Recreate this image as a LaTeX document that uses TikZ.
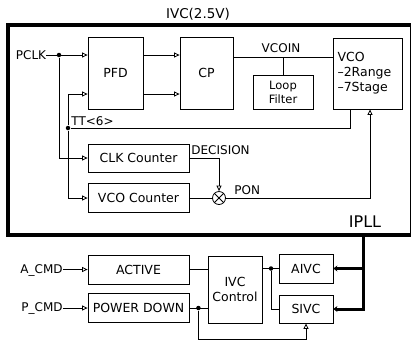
\documentclass[tikz,border=0pt]{standalone}
\usepackage{fontspec}
\setmainfont{DejaVu Sans}
\usetikzlibrary{arrows.meta,positioning,calc}

\begin{document}
\begin{tikzpicture}[x=1pt,y=-1pt,line width=0.8pt,
  blk/.style={draw,inner sep=1pt,align=center,font=\fontsize{12.5}{15}\selectfont},
  lbl/.style={inner sep=0pt,font=\fontsize{12}{14}\selectfont},
  junc/.style={circle,fill,inner sep=0pt,minimum size=4.5pt},
  tip/.style={-{Triangle[open,length=5.5pt,width=5pt]}},
  bus/.style={line width=3pt,-{Stealth[length=4pt,width=6pt]}}]
  \useasboundingbox (0,0) rectangle (411,341);
  % --- rows ---
  \coordinate (rA) at (0,55);
  \coordinate (rB) at (0,94);
  \coordinate (vin) at (0,57);
  \coordinate (bt) at (0,339);
  % --- IPLL frame ---
  \draw[line width=3.5pt] (411,25) -- (8,25) -- (8,235) -- (411,235);
  \draw (410,25) -- (410,235);
  \node[lbl,font=\fontsize{13.5}{15}\selectfont] (ivc) at (198,14) {IVC(2.5V)};
  \node[lbl,font=\fontsize{16}{18}\selectfont] (ipll) at (365,222) {IPLL};
  % --- loop blocks ---
  \node[blk,minimum width=55pt,minimum height=72pt] (pfd) at (115.5,73) {PFD};
  \node[blk,minimum width=53pt,minimum height=72pt] (cp) at (206.5,73) {CP};
  \node[blk,minimum width=60pt,minimum height=34pt,
        font=\fontsize{11.5}{14}\selectfont] (lf) at (283,92) {Loop\\Filter};
  \node[blk,minimum width=69pt,minimum height=71pt,text width=60pt,
        align=left] (vco) at (367.5,73.5) {VCO\\–2Range\\–7Stage};
  \node[blk,minimum width=101pt,minimum height=28pt] (clk) at (138.5,158) {CLK Counter};
  \node[blk,minimum width=101pt,minimum height=29pt] (vcnt) at (138.5,198) {VCO Counter};
  \node[draw,circle,minimum size=13pt,inner sep=0pt] (mix) at (219,198) {};
  \draw (mix.north west) -- (mix.south east) (mix.north east) -- (mix.south west);
  % --- loop wiring ---
  \node[lbl] (pclk) at (31,55) {PCLK};
  \draw[tip] (pclk.east) -- (pfd.west |- rA);
  \node[junc] (jp) at (59,55) {};
  \draw[tip] (jp) -- (jp |- clk) -- (clk.west);
  \node[junc] (jf) at (68,128) {};
  \draw[tip] (jf) -- (jf |- rB) -- (pfd.west |- rB);
  \draw[tip] (jf) -- (jf |- vcnt) -- (vcnt.west);
  \coordinate (vout) at (350,128);
  \draw (vco.south -| vout) -- (vout) -- (jf);
  \node[lbl,anchor=south west] (tt) at (71,126) {TT<6>};
  \draw[tip] (pfd.east |- rA) -- (cp.west |- rA);
  \draw[tip] (pfd.east |- rB) -- (cp.west |- rB);
  \draw (cp.east |- vin) -- (vco.west |- vin);
  \draw (lf.north |- vin) -- (lf.north);
  \node[lbl,anchor=south] (vcoin) at (281,53) {VCOIN};
  \draw[tip] (clk.east) -- (clk.east -| mix) -- (mix.north);
  \node[lbl,anchor=west] (dec) at (191,150) {DECISION};
  \draw (vcnt.east) -- (mix.west);
  \coordinate (pn) at (370,198);
  \draw[tip] (mix.east) -- (pn) -- (vco.south -| pn);
  \node[lbl,anchor=west] (pon) at (234,190) {PON};
  % --- IVC control ---
  \node[blk,minimum width=101pt,minimum height=29pt] (act) at (138.5,269.5) {ACTIVE};
  \node[blk,minimum width=101pt,minimum height=29pt] (pwd) at (138.5,308) {POWER DOWN};
  \node[blk,minimum width=54pt,minimum height=67pt] (ctl) at (235,289.5) {IVC\\Control};
  \node[blk,minimum width=54pt,minimum height=29pt] (aivc) at (306,268.5) {AIVC};
  \node[blk,minimum width=54pt,minimum height=28pt] (sivc) at (306,309) {SIVC};
  \node[lbl,anchor=east] (acmd) at (63,270) {A\_CMD};
  \node[lbl,anchor=east] (pcmd) at (63,308) {P\_CMD};
  \draw[tip] (acmd.east |- act) -- (act.west);
  \draw[tip] (pcmd.east |- pwd) -- (pwd.west);
  \draw (act.east) -- (ctl.west |- act);
  \draw (pwd.east) -- (ctl.west |- pwd);
  \node[junc] (jd) at ($(pwd.east)+(9,0)$) {};
  \draw[tip] (jd) -- (jd |- bt) -- (sivc.south |- bt) -- (sivc.south);
  \node[junc] (jc) at (271,268.5) {};
  \draw (ctl.east |- jc) -- (aivc.west);
  \draw (jc) -- (jc |- sivc) -- (sivc.west);
  % --- supply bus ---
  \coordinate (bus) at (363,234);
  \draw[bus] (bus) -- (bus |- sivc) -- (sivc.east);
  \draw[bus] (bus |- aivc) -- (aivc.east);
\end{tikzpicture}
\end{document}
